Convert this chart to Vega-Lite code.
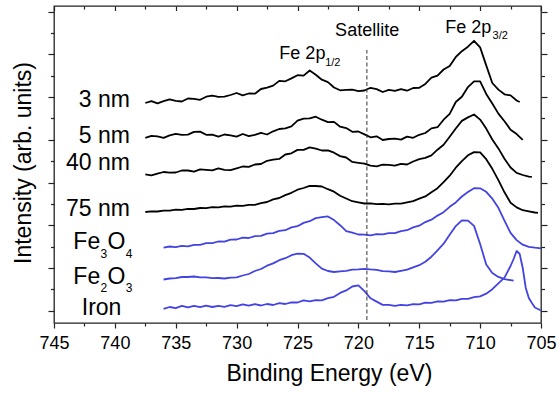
{
  "$schema": "https://vega.github.io/schema/vega-lite/v6.json",
  "width": 487,
  "height": 317,
  "autosize": "none",
  "padding": {"left": 54, "top": 6, "right": 16, "bottom": 70},
  "background": "white",
  "config": {
    "font": "Liberation Sans",
    "view": {"stroke": "#222", "strokeWidth": 1.3},
    "axis": {"labelFont": "Liberation Sans", "titleFont": "Liberation Sans", "labelColor": "#000", "titleColor": "#000", "titleFontWeight": "normal", "tickColor": "#222", "tickWidth": 1.2, "domain": false, "grid": false}
  },
  "datasets": {
    "spectra": [
      {"e":737.5,"nm3":220.0,"nm5":185.2,"nm40":148.6,"nm75":111.0},
      {"e":737.0,"nm3":221.9,"nm5":187.2,"nm40":147.7,"nm75":111.7},
      {"e":736.5,"nm3":219.7,"nm5":186.6,"nm40":149.4,"nm75":111.5},
      {"e":736.0,"nm3":221.8,"nm5":185.2,"nm40":151.0,"nm75":112.4,"Fe3O4":75.4,"Fe2O3":43.5,"Iron":14.2},
      {"e":735.5,"nm3":223.6,"nm5":187.7,"nm40":150.3,"nm75":112.3,"Fe3O4":76.5,"Fe2O3":44.5,"Iron":16.0},
      {"e":735.0,"nm3":222.2,"nm5":189.2,"nm40":150.5,"nm75":113.4,"Fe3O4":75.9,"Fe2O3":44.8,"Iron":14.9},
      {"e":734.5,"nm3":221.5,"nm5":188.1,"nm40":152.5,"nm75":113.2,"Fe3O4":77.1,"Fe2O3":46.0,"Iron":17.1},
      {"e":734.0,"nm3":224.5,"nm5":188.4,"nm40":152.5,"nm75":114.2,"Fe3O4":76.6,"Fe2O3":46.0,"Iron":15.6},
      {"e":733.5,"nm3":224.2,"nm5":191.1,"nm40":151.4,"nm75":114.0,"Fe3O4":78.2,"Fe2O3":46.5,"Iron":17.2},
      {"e":733.0,"nm3":223.2,"nm5":191.4,"nm40":153.7,"nm75":115.0,"Fe3O4":78.1,"Fe2O3":45.6,"Iron":15.8},
      {"e":732.5,"nm3":226.3,"nm5":188.2,"nm40":153.1,"nm75":114.8,"Fe3O4":79.9,"Fe2O3":45.7,"Iron":17.3},
      {"e":732.0,"nm3":227.4,"nm5":188.4,"nm40":152.6,"nm75":115.8,"Fe3O4":79.8,"Fe2O3":44.8,"Iron":16.0},
      {"e":731.5,"nm3":226.1,"nm5":186.3,"nm40":154.6,"nm75":115.6,"Fe3O4":81.5,"Fe2O3":45.0,"Iron":17.2},
      {"e":731.0,"nm3":226.4,"nm5":188.5,"nm40":153.1,"nm75":116.6,"Fe3O4":81.3,"Fe2O3":44.5,"Iron":16.1},
      {"e":730.5,"nm3":228.0,"nm5":187.7,"nm40":152.8,"nm75":116.4,"Fe3O4":83.4,"Fe2O3":45.3,"Iron":17.8},
      {"e":730.0,"nm3":230.0,"nm5":186.4,"nm40":154.7,"nm75":117.3,"Fe3O4":83.5,"Fe2O3":45.6,"Iron":16.9},
      {"e":729.5,"nm3":227.6,"nm5":189.0,"nm40":156.5,"nm75":117.2,"Fe3O4":85.3,"Fe2O3":47.5,"Iron":18.6},
      {"e":729.0,"nm3":229.5,"nm5":186.8,"nm40":156.1,"nm75":118.2,"Fe3O4":85.0,"Fe2O3":49.0,"Iron":17.3},
      {"e":728.5,"nm3":229.3,"nm5":188.2,"nm40":158.5,"nm75":118.2,"Fe3O4":86.8,"Fe2O3":52.0,"Iron":18.8},
      {"e":728.0,"nm3":234.0,"nm5":190.1,"nm40":159.0,"nm75":119.9,"Fe3O4":87.1,"Fe2O3":54.0,"Iron":17.5},
      {"e":727.5,"nm3":235.4,"nm5":188.5,"nm40":162.2,"nm75":121.0,"Fe3O4":89.4,"Fe2O3":57.3,"Iron":19.0},
      {"e":727.0,"nm3":237.4,"nm5":191.7,"nm40":163.4,"nm75":123.6,"Fe3O4":89.8,"Fe2O3":59.6,"Iron":18.0},
      {"e":726.5,"nm3":242.1,"nm5":194.0,"nm40":164.1,"nm75":125.0,"Fe3O4":92.1,"Fe2O3":62.8,"Iron":19.8},
      {"e":726.0,"nm3":241.7,"nm5":194.6,"nm40":168.5,"nm75":127.9,"Fe3O4":92.8,"Fe2O3":64.8,"Iron":19.0},
      {"e":725.5,"nm3":244.6,"nm5":196.6,"nm40":169.7,"nm75":130.2,"Fe3O4":95.6,"Fe2O3":67.8,"Iron":20.7},
      {"e":725.0,"nm3":247.8,"nm5":202.3,"nm40":173.1,"nm75":133.3,"Fe3O4":96.8,"Fe2O3":69.3,"Iron":20.5},
      {"e":724.5,"nm3":247.4,"nm5":204.3,"nm40":173.2,"nm75":135.0,"Fe3O4":100.1,"Fe2O3":69.2,"Iron":22.7},
      {"e":724.0,"nm3":252.5,"nm5":204.6,"nm40":175.6,"nm75":137.1,"Fe3O4":101.8,"Fe2O3":65.4,"Iron":21.6},
      {"e":723.5,"nm3":248.3,"nm5":206.3,"nm40":174.3,"nm75":137.0,"Fe3O4":104.9,"Fe2O3":59.7,"Iron":22.9},
      {"e":723.0,"nm3":243.3,"nm5":203.3,"nm40":172.5,"nm75":136.5,"Fe3O4":105.8,"Fe2O3":54.3,"Iron":22.6},
      {"e":722.5,"nm3":240.9,"nm5":200.9,"nm40":172.7,"nm75":133.8,"Fe3O4":106.6,"Fe2O3":52.0,"Iron":24.8},
      {"e":722.0,"nm3":235.5,"nm5":201.1,"nm40":170.3,"nm75":131.3,"Fe3O4":102.9,"Fe2O3":51.0,"Iron":26.2},
      {"e":721.5,"nm3":232.7,"nm5":196.3,"nm40":166.9,"nm75":127.3,"Fe3O4":97.8,"Fe2O3":51.7,"Iron":30.1},
      {"e":721.0,"nm3":233.1,"nm5":194.9,"nm40":165.5,"nm75":124.5,"Fe3O4":91.9,"Fe2O3":52.2,"Iron":32.6},
      {"e":720.5,"nm3":233.4,"nm5":191.2,"nm40":161.1,"nm75":121.8,"Fe3O4":90.3,"Fe2O3":53.4,"Iron":36.5},
      {"e":720.0,"nm3":231.8,"nm5":191.5,"nm40":160.2,"nm75":120.7,"Fe3O4":88.5,"Fe2O3":53.6,"Iron":37.7},
      {"e":719.5,"nm3":232.5,"nm5":188.6,"nm40":159.3,"nm75":119.5,"Fe3O4":88.3,"Fe2O3":54.2,"Iron":31.8},
      {"e":719.0,"nm3":235.2,"nm5":185.7,"nm40":157.3,"nm75":119.6,"Fe3O4":87.7,"Fe2O3":53.6,"Iron":24.7},
      {"e":718.5,"nm3":233.9,"nm5":186.7,"nm40":156.7,"nm75":118.8,"Fe3O4":88.8,"Fe2O3":53.2,"Iron":21.4},
      {"e":718.0,"nm3":231.0,"nm5":183.0,"nm40":158.4,"nm75":119.1,"Fe3O4":88.6,"Fe2O3":51.8,"Iron":18.1},
      {"e":717.5,"nm3":233.1,"nm5":184.0,"nm40":158.2,"nm75":118.6,"Fe3O4":89.9,"Fe2O3":51.6,"Iron":18.2},
      {"e":717.0,"nm3":232.2,"nm5":184.4,"nm40":157.3,"nm75":119.3,"Fe3O4":89.8,"Fe2O3":51.0,"Iron":17.1},
      {"e":716.5,"nm3":233.9,"nm5":183.4,"nm40":159.1,"nm75":119.3,"Fe3O4":91.9,"Fe2O3":52.2,"Iron":18.2},
      {"e":716.0,"nm3":232.3,"nm5":186.4,"nm40":158.5,"nm75":120.7,"Fe3O4":92.8,"Fe2O3":53.3,"Iron":17.6},
      {"e":715.5,"nm3":235.0,"nm5":185.2,"nm40":161.5,"nm75":121.8,"Fe3O4":95.6,"Fe2O3":55.7,"Iron":18.9},
      {"e":715.0,"nm3":235.2,"nm5":188.2,"nm40":163.9,"nm75":124.3,"Fe3O4":97.3,"Fe2O3":57.8,"Iron":18.6},
      {"e":714.5,"nm3":239.1,"nm5":190.0,"nm40":165.1,"nm75":126.6,"Fe3O4":100.9,"Fe2O3":61.2,"Iron":20.3},
      {"e":714.0,"nm3":245.3,"nm5":194.6,"nm40":167.6,"nm75":130.8,"Fe3O4":103.3,"Fe2O3":66.3,"Iron":20.2},
      {"e":713.5,"nm3":247.4,"nm5":195.8,"nm40":173.3,"nm75":134.8,"Fe3O4":107.4,"Fe2O3":72.7,"Iron":21.7},
      {"e":713.0,"nm3":253.5,"nm5":203.3,"nm40":178.2,"nm75":140.8,"Fe3O4":110.8,"Fe2O3":79.3,"Iron":21.3},
      {"e":712.5,"nm3":257.1,"nm5":209.2,"nm40":186.2,"nm75":147.3,"Fe3O4":116.2,"Fe2O3":88.2,"Iron":22.8},
      {"e":712.0,"nm3":266.0,"nm5":221.0,"nm40":194.5,"nm75":155.3,"Fe3O4":120.6,"Fe2O3":96.9,"Iron":22.6},
      {"e":711.5,"nm3":271.8,"nm5":226.2,"nm40":202.1,"nm75":161.8,"Fe3O4":126.5,"Fe2O3":102.6,"Iron":24.1},
      {"e":711.0,"nm3":276.3,"nm5":235.9,"nm40":205.6,"nm75":167.7,"Fe3O4":130.9,"Fe2O3":102.4,"Iron":24.1},
      {"e":710.5,"nm3":282.2,"nm5":241.6,"nm40":208.5,"nm75":170.9,"Fe3O4":134.8,"Fe2O3":97.1,"Iron":25.9},
      {"e":710.0,"nm3":275.6,"nm5":241.7,"nm40":203.4,"nm75":170.7,"Fe3O4":134.7,"Fe2O3":79.0,"Iron":26.7},
      {"e":709.5,"nm3":257.6,"nm5":229.1,"nm40":194.4,"nm75":163.8,"Fe3O4":131.2,"Fe2O3":58.5,"Iron":29.3},
      {"e":709.0,"nm3":240.0,"nm5":219.5,"nm40":183.5,"nm75":154.2,"Fe3O4":124.3,"Fe2O3":50.0,"Iron":33.8},
      {"e":708.5,"nm3":233.4,"nm5":209.4,"nm40":174.6,"nm75":142.8,"Fe3O4":115.2,"Fe2O3":46.1,"Iron":39.7},
      {"e":708.0,"nm3":228.7,"nm5":201.8,"nm40":164.2,"nm75":130.7,"Fe3O4":102.4,"Fe2O3":43.9,"Iron":45.4},
      {"e":707.5,"nm3":227.6,"nm5":193.3,"nm40":155.5,"nm75":120.3,"Fe3O4":90.1,"Fe2O3":42.8,"Iron":57.0},
      {"e":707.25,"Fe2O3":42.3,"Iron":64.0},
      {"e":707.0,"nm3":222.5,"nm5":188.9,"nm40":150.1,"nm75":115.6,"Fe3O4":82.9,"Iron":72.0},
      {"e":706.75,"nm3":221.0,"Iron":69.0},
      {"e":706.5,"nm5":183.2,"nm40":148.0,"nm75":112.8,"Fe3O4":78.3,"Iron":55.0},
      {"e":706.25,"Iron":35.0},
      {"e":706.0,"nm40":146.3,"nm75":111.6,"Fe3O4":76.1,"Iron":25.0},
      {"e":705.75,"nm40":146.2,"Iron":20.0},
      {"e":705.5,"nm75":110.5,"Fe3O4":75.3,"Iron":15.5},
      {"e":705.25,"nm75":110.2},
      {"e":705.0,"Fe3O4":74.7,"Iron":12.5}
    ],
    "thickness": [
      {"e":738.76,"i":215.7,"t":"3 nm"},
      {"e":738.76,"i":179.7,"t":"5 nm"},
      {"e":738.76,"i":153.0,"t":"40 nm"},
      {"e":738.76,"i":107.0,"t":"75 nm"}
    ],
    "formula": [
      {"e":743.41,"i":73.7,"t":"Fe"},
      {"e":740.60,"i":73.7,"t":"O"},
      {"e":743.41,"i":39.0,"t":"Fe"},
      {"e":740.60,"i":39.0,"t":"O"},
      {"e":742.72,"i":8.0,"t":"Iron"}
    ],
    "formulaSub": [
      {"e":741.18,"i":64.7,"t":"3"},
      {"e":739.10,"i":64.7,"t":"4"},
      {"e":741.18,"i":31.3,"t":"2"},
      {"e":739.10,"i":31.3,"t":"3"}
    ],
    "peaks": [
      {"e":721.91,"i":287.0,"t":"Satellite"},
      {"e":726.49,"i":263.7,"t":"Fe 2p"},
      {"e":712.87,"i":289.7,"t":"Fe 2p"}
    ],
    "peakSub": [
      {"e":722.73,"i":257.0,"t":"1/2"},
      {"e":708.98,"i":284.0,"t":"3/2"}
    ]
  },
  "layer": [
    {
      "data": {"name": "spectra"},
      "transform": [
        {"fold": ["nm3", "nm5", "nm40", "nm75", "Fe3O4", "Fe2O3", "Iron"], "as": ["series", "intensity"]},
        {"filter": "isValid(datum.intensity)"}
      ],
      "mark": {"type": "line", "strokeJoin": "round"},
      "encoding": {
        "x": {"field": "e", "type": "quantitative",
              "scale": {"domain": [705, 745], "reverse": true, "nice": false, "zero": false},
              "axis": {"orient": "bottom", "values": [745, 740, 735, 730, 725, 720, 715, 710, 705], "tickSize": 5, "labelFontSize": 18, "labelPadding": 6, "format": "d", "labelFlush": false, "labelOverlap": false,
                       "title": "Binding Energy (eV)", "titleFontSize": 23, "titleX": 275, "titleY": 57, "titleBaseline": "alphabetic", "titleAlign": "center", "titleAnchor": null}},
        "y": {"field": "intensity", "type": "quantitative",
              "scale": {"domain": [0, 317], "nice": false, "zero": false},
              "axis": {"orient": "left", "values": [12.4, 55.1, 97.8, 140.5, 183.2, 225.9, 268.6, 311.3], "tickSize": 6, "labels": false,
                       "title": "Intensity (arb. units)", "titleFontSize": 23, "titleAngle": 270, "titleX": -24, "titleY": 156.5, "titleBaseline": "alphabetic", "titleAlign": "center", "titleAnchor": null}},
        "color": {"field": "series", "type": "nominal",
                  "scale": {"domain": ["nm3", "nm5", "nm40", "nm75", "Fe3O4", "Fe2O3", "Iron"], "range": ["#000000", "#000000", "#000000", "#000000", "#4343e2", "#4343e2", "#4343e2"]},
                  "legend": null},
        "strokeWidth": {"field": "series", "type": "nominal",
                        "scale": {"domain": ["nm3", "nm5", "nm40", "nm75", "Fe3O4", "Fe2O3", "Iron"], "range": [1.8, 1.8, 1.8, 1.8, 1, 1, 1]},
                        "legend": null}
      }
    },
    {
      "data": {"values": [{"e": 719.3, "lo": 3, "hi": 273}]},
      "mark": {"type": "rule", "strokeDash": [4, 2.5], "color": "#333", "strokeWidth": 1},
      "encoding": {
        "x": {"field": "e", "type": "quantitative",
              "scale": {"domain": [705, 745], "reverse": true, "nice": false, "zero": false},
              "axis": {"orient": "bottom", "values": [742.5, 737.5, 732.5, 727.5, 722.5, 717.5, 712.5, 707.5], "tickSize": 3, "labels": false, "title": null}},
        "y": {"field": "lo", "type": "quantitative",
              "scale": {"domain": [0, 317], "nice": false, "zero": false},
              "axis": {"orient": "left", "values": [33.75, 76.45, 119.15, 161.85, 204.55, 247.25, 289.95], "tickSize": 3.5, "labels": false, "title": null}},
        "y2": {"field": "hi"}
      }
    },
    {
      "data": {"name": "thickness"},
      "mark": {"type": "text", "align": "right", "baseline": "alphabetic", "fontSize": 23, "color": "#000"},
      "encoding": {
        "x": {"field": "e", "type": "quantitative",
              "scale": {"domain": [705, 745], "reverse": true, "nice": false, "zero": false},
              "axis": {"orient": "top", "values": [745, 740, 735, 730, 725, 720, 715, 710, 705], "tickSize": -4.5, "labels": false, "title": null}},
        "y": {"field": "i", "type": "quantitative",
              "scale": {"domain": [0, 317], "nice": false, "zero": false},
              "axis": {"orient": "right", "values": [12.4, 55.1, 97.8, 140.5, 183.2, 225.9, 268.6, 311.3], "tickSize": 6, "labels": false, "title": null}},
        "text": {"field": "t"}
      }
    },
    {
      "data": {"name": "formula"},
      "mark": {"type": "text", "align": "left", "baseline": "alphabetic", "fontSize": 23, "color": "#000"},
      "encoding": {
        "x": {"field": "e", "type": "quantitative",
              "scale": {"domain": [705, 745], "reverse": true, "nice": false, "zero": false},
              "axis": {"orient": "top", "values": [742.5, 737.5, 732.5, 727.5, 722.5, 717.5, 712.5, 707.5], "tickSize": -3, "labels": false, "title": null}},
        "y": {"field": "i", "type": "quantitative",
              "scale": {"domain": [0, 317], "nice": false, "zero": false},
              "axis": {"orient": "right", "values": [33.75, 76.45, 119.15, 161.85, 204.55, 247.25, 289.95], "tickSize": 3.5, "labels": false, "title": null}},
        "text": {"field": "t"}
      }
    },
    {
      "data": {"name": "formulaSub"},
      "mark": {"type": "text", "align": "left", "baseline": "alphabetic", "fontSize": 12, "color": "#000"},
      "encoding": {
        "x": {"field": "e", "type": "quantitative", "scale": {"domain": [705, 745], "reverse": true, "nice": false, "zero": false}, "axis": null},
        "y": {"field": "i", "type": "quantitative", "scale": {"domain": [0, 317], "nice": false, "zero": false}, "axis": null},
        "text": {"field": "t"}
      }
    },
    {
      "data": {"name": "peaks"},
      "mark": {"type": "text", "align": "left", "baseline": "alphabetic", "fontSize": 18, "color": "#000"},
      "encoding": {
        "x": {"field": "e", "type": "quantitative", "scale": {"domain": [705, 745], "reverse": true, "nice": false, "zero": false}, "axis": null},
        "y": {"field": "i", "type": "quantitative", "scale": {"domain": [0, 317], "nice": false, "zero": false}, "axis": null},
        "text": {"field": "t"}
      }
    },
    {
      "data": {"name": "peakSub"},
      "mark": {"type": "text", "align": "left", "baseline": "alphabetic", "fontSize": 11, "color": "#000"},
      "encoding": {
        "x": {"field": "e", "type": "quantitative", "scale": {"domain": [705, 745], "reverse": true, "nice": false, "zero": false}, "axis": null},
        "y": {"field": "i", "type": "quantitative", "scale": {"domain": [0, 317], "nice": false, "zero": false}, "axis": null},
        "text": {"field": "t"}
      }
    }
  ],
  "resolve": {"axis": {"x": "independent", "y": "independent"}}
}
